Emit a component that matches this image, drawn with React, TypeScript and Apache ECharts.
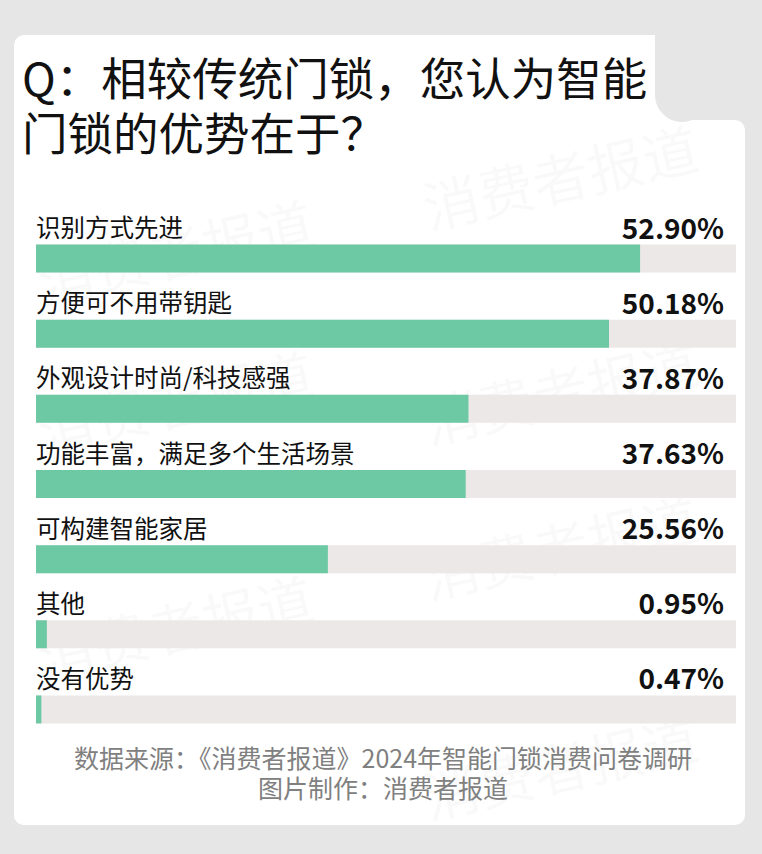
import React, { useEffect, useRef } from "react";
import * as echarts from "echarts";

const categories = [
  "识别方式先进",
  "方便可不用带钥匙",
  "外观设计时尚/科技感强",
  "功能丰富，满足多个生活场景",
  "可构建智能家居",
  "其他",
  "没有优势",
];
const values = [52.9, 50.18, 37.87, 37.63, 25.56, 0.95, 0.47];
const axisMax = 61.3;
const titleLines = ["Q：相较传统门锁，您认为智能", "门锁的优势在于？"];
const footerLines = ["数据来源：《消费者报道》2024年智能门锁消费问卷调研", "图片制作：消费者报道"];
const watermark = "消费者报道";

const CJK = '"Noto Sans CJK SC", "Noto Sans", sans-serif';
const BG = "#e6e6e6";

export default function App() {
  const ref = useRef<HTMLDivElement>(null);
  useEffect(() => {
    if (!ref.current) return;
    const chart = echarts.init(ref.current, undefined, { renderer: "svg" });
    const wmPos = [
      [560, 175], [175, 250], [560, 390], [175, 400], [560, 545], [175, 625], [560, 765],
    ];
    chart.setOption({
      animation: false,
      backgroundColor: "transparent",
      grid: { left: 36, right: 26, top: 221, bottom: 107 },
      xAxis: { type: "value", min: 0, max: axisMax, show: false },
      yAxis: { type: "category", data: categories, inverse: true, show: false },
      graphic: [
        { type: "rect", z: 0, shape: { x: 14, y: 35, width: 660, height: 790, r: 10 }, style: { fill: "#ffffff" } },
        { type: "rect", z: 0, shape: { x: 14, y: 120, width: 731, height: 705, r: 10 }, style: { fill: "#ffffff" } },
        { type: "rect", z: 0, shape: { x: 650, y: 90, width: 40, height: 35 }, style: { fill: "#ffffff" } },
        { type: "rect", z: 0, shape: { x: 655, y: 0, width: 107, height: 95 }, style: { fill: BG } },
        { type: "circle", z: 0, shape: { cx: 682, cy: 95, r: 27 }, style: { fill: BG } },
        { type: "rect", z: 0, shape: { x: 682, y: 60, width: 80, height: 60 }, style: { fill: BG } },
        ...wmPos.map(([x, y]) => ({
          type: "text",
          z: 1,
          silent: true,
          x,
          y,
          rotation: 0.22,
          style: {
            text: watermark,
            font: `56px ${CJK}`,
            fill: "rgba(0,0,0,0.025)",
            textAlign: "center",
            textVerticalAlign: "middle",
          },
        })),
        ...titleLines.map((t, i) => ({
          type: "text",
          z: 2,
          x: 22,
          y: 76 + i * 55,
          style: {
            text: t,
            font: `45.5px ${CJK}`,
            fill: "#111111",
            textVerticalAlign: "middle",
          },
        })),
        ...footerLines.map((t, i) => ({
          type: "text",
          z: 2,
          x: 383,
          y: 757 + i * 30,
          style: {
            text: t,
            font: `25px ${CJK}`,
            fill: "#808080",
            textAlign: "center",
            textVerticalAlign: "middle",
          },
        })),
      ],
      series: [
        {
          type: "bar",
          data: values,
          barWidth: 28,
          z: 2,
          itemStyle: { color: "#6dc9a4" },
          showBackground: true,
          backgroundStyle: { color: "#ece8e7" },
          label: {
            show: true,
            position: [0, -4],
            verticalAlign: "bottom",
            align: "left",
            formatter: (p: any) => `{n|${p.name}}{v|${values[p.dataIndex].toFixed(2)}%}`,
            rich: {
              n: { fontSize: 24.5, fontFamily: CJK, color: "#111111", width: 420, align: "left" },
              v: { fontSize: 28, fontFamily: CJK, fontWeight: "bold", color: "#111111", width: 268, align: "right" },
            },
          },
        },
      ],
    });
    return () => chart.dispose();
  }, []);
  return (
    <div style={{ position: "absolute", left: 0, top: 0, width: 762, height: 854, background: BG }}>
      <div ref={ref} style={{ width: 762, height: 854 }} />
    </div>
  );
}
